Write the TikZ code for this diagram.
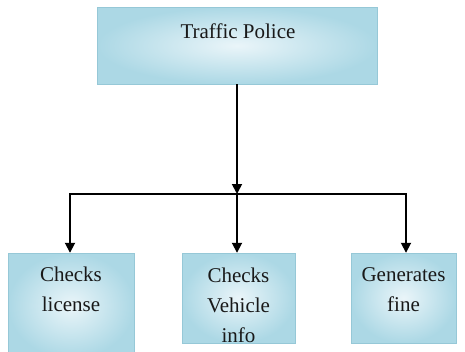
\documentclass[tikz,border=0pt]{standalone}
\usepackage{fontspec}
\setmainfont{Liberation Serif}
\usetikzlibrary{arrows.meta}
\definecolor{boxedge}{RGB}{150,200,215}
\definecolor{boxin}{RGB}{234,245,249}
\definecolor{boxout}{RGB}{172,216,229}
\definecolor{txt}{RGB}{25,25,25}
\tikzset{
  boxshade/.style={draw=boxedge, line width=0.8pt, inner color=boxin, outer color=boxout},
  lbl/.style={font=\fontsize{21}{30}\selectfont, text=txt, align=center, inner sep=0pt},
  conn/.style={line width=1.8pt, -{Triangle[width=10pt,length=10pt]}},
  plain/.style={line width=1.8pt}
}
\begin{document}
\begin{tikzpicture}[x=1pt,y=-1pt]
\useasboundingbox (0,0) rectangle (465,351);
\clip (0,0) rectangle (465,351);
% boxes
\path[boxshade] (97,7) rectangle (377,84);
\node[inner sep=0pt, minimum width=280pt, minimum height=77pt] (top) at (237,45.5) {};
\path[boxshade] (8,253) rectangle (134,358);
\node[inner sep=0pt, minimum width=126pt, minimum height=105pt] (lic) at (71,305.5) {};
\path[boxshade] (182,253) rectangle (295,343);
\node[inner sep=0pt, minimum width=113pt, minimum height=90pt] (veh) at (238.5,298) {};
\path[boxshade] (351,253) rectangle (456,343);
\node[inner sep=0pt, minimum width=105pt, minimum height=90pt] (fine) at (403.5,298) {};
% texts
\node[lbl] (ttop) at (238,31) {Traffic Police};
\node[lbl, anchor=north] (tlic) at (71,267) {Checks\\license};
\begin{scope}
\clip (182,253) rectangle (295,342.5);
\node[lbl, anchor=north] (tveh) at (238.5,267.5) {Checks\\Vehicle\\info};
\end{scope}
\node[lbl, anchor=north] (tfine) at (403.5,267) {Generates\\fine};
% connectors
\coordinate (j) at (237,194);
\coordinate (jl) at (70,194);
\coordinate (jr) at (406,194);
\draw[conn] (top.south -| j) -- (j);
\draw[plain] (jl) -- (jr);
\draw[conn] ([yshift=0.9pt]jl) -- (jl |- lic.north);
\draw[conn] (j) -- (j |- veh.north);
\draw[conn] ([yshift=0.9pt]jr) -- (jr |- fine.north);
\end{tikzpicture}
\end{document}
